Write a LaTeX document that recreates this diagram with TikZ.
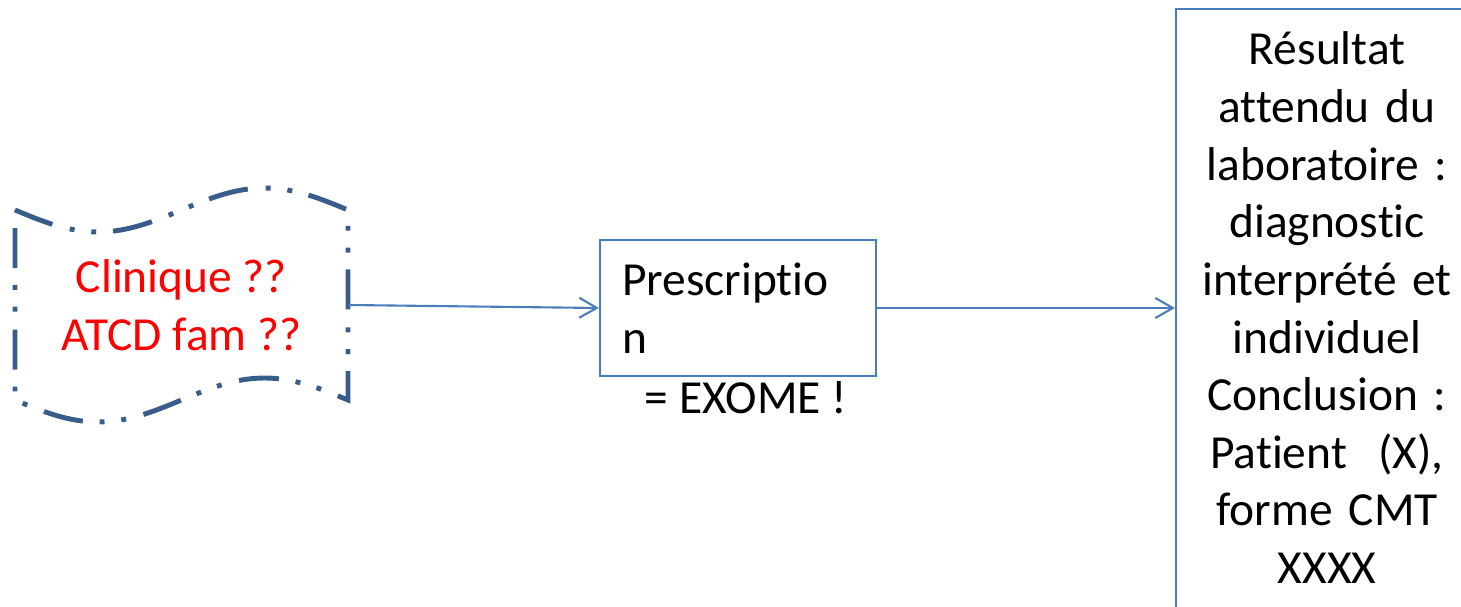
\documentclass[tikz,border=0pt]{standalone}
\usepackage{fontspec}
\setmainfont{Carlito}[Ligatures=NoCommon]
\usetikzlibrary{arrows.meta}
\definecolor{bordtape}{RGB}{56,93,138}
\definecolor{bleuligne}{RGB}{74,126,187}

\begin{document}
\begin{tikzpicture}[
		fleche/.style={-{Straight Barb[length=5pt,width=5.7pt]}, line width=0.6pt, bleuligne},
		boite/.style={draw=bleuligne, line width=0.6pt, rectangle},
		texte/.style={font=\fontsize{13.5}{16.4}\selectfont}
	]
	\useasboundingbox (0,0) rectangle (14.61,6.06);

	% bande perforee
	\draw[bordtape, line width=1.4pt, dash pattern=on 11.4pt off 5.1pt on 1.4pt off 4.8pt on 1.4pt off 4.8pt]
		(0.15,3.96) sin (0.98,3.74) cos (1.815,3.96) sin (2.645,4.18) cos (3.48,3.96)
		-- (3.48,2.06) sin (2.645,2.28) cos (1.815,2.06) sin (0.98,1.84) cos (0.15,2.06) -- cycle;
	\node[texte, red, align=center] (clin) at (1.815,3.01) {Clinique ??\\ATCD fam ??};
	\coordinate (tapeE) at (3.49,3.01);

	\node[boite, texte, minimum width=2.76cm, minimum height=1.36cm, text width=2.32cm, inner xsep=0.22cm, align=left] (presc) at (7.38,2.98) {Prescriptio\\n};
	\node[texte] (exome) at (7.46,2.08) {= EXOME !};

	\node[boite, texte, anchor=north west, text width=2.8cm, inner xsep=0.11cm, inner ysep=6.5pt, align=center] (res) at (11.75,5.98)
		{Résultat\\attendu du\\laboratoire :\\diagnostic\\interprété et\\individuel\\Conclusion :\\Patient~~(X),\\forme CMT\\XXXX\\[1cm]\mbox{}};

	\draw[fleche] (tapeE) -- (presc.west); % bande vers prescription
	\draw[fleche] (presc.east) -- (presc.east -| res.west); % prescription vers resultat
\end{tikzpicture}
\end{document}
